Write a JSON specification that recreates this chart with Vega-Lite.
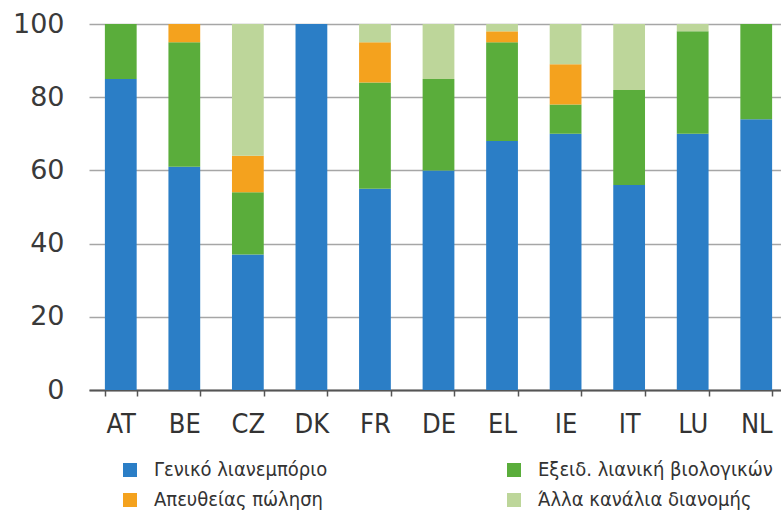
{
  "$schema": "https://vega.github.io/schema/vega-lite/v6.json",
  "autosize": "none",
  "width": 699,
  "height": 366,
  "padding": {"left": 89, "top": 24, "right": 0, "bottom": 126},
  "background": "white",
  "data": {
    "values": [
      {"country": "AT", "channel": "Γενικό λιανεμπόριο", "k": 1, "value": 85},
      {"country": "AT", "channel": "Εξειδ. λιανική βιολογικών", "k": 2, "value": 15},
      {"country": "BE", "channel": "Γενικό λιανεμπόριο", "k": 1, "value": 61},
      {"country": "BE", "channel": "Εξειδ. λιανική βιολογικών", "k": 2, "value": 34},
      {"country": "BE", "channel": "Απευθείας πώληση", "k": 3, "value": 5},
      {"country": "CZ", "channel": "Γενικό λιανεμπόριο", "k": 1, "value": 37},
      {"country": "CZ", "channel": "Εξειδ. λιανική βιολογικών", "k": 2, "value": 17},
      {"country": "CZ", "channel": "Απευθείας πώληση", "k": 3, "value": 10},
      {"country": "CZ", "channel": "Άλλα κανάλια διανομής", "k": 4, "value": 36},
      {"country": "DK", "channel": "Γενικό λιανεμπόριο", "k": 1, "value": 100},
      {"country": "FR", "channel": "Γενικό λιανεμπόριο", "k": 1, "value": 55},
      {"country": "FR", "channel": "Εξειδ. λιανική βιολογικών", "k": 2, "value": 29},
      {"country": "FR", "channel": "Απευθείας πώληση", "k": 3, "value": 11},
      {"country": "FR", "channel": "Άλλα κανάλια διανομής", "k": 4, "value": 5},
      {"country": "DE", "channel": "Γενικό λιανεμπόριο", "k": 1, "value": 60},
      {"country": "DE", "channel": "Εξειδ. λιανική βιολογικών", "k": 2, "value": 25},
      {"country": "DE", "channel": "Άλλα κανάλια διανομής", "k": 4, "value": 15},
      {"country": "EL", "channel": "Γενικό λιανεμπόριο", "k": 1, "value": 68},
      {"country": "EL", "channel": "Εξειδ. λιανική βιολογικών", "k": 2, "value": 27},
      {"country": "EL", "channel": "Απευθείας πώληση", "k": 3, "value": 3},
      {"country": "EL", "channel": "Άλλα κανάλια διανομής", "k": 4, "value": 2},
      {"country": "IE", "channel": "Γενικό λιανεμπόριο", "k": 1, "value": 70},
      {"country": "IE", "channel": "Εξειδ. λιανική βιολογικών", "k": 2, "value": 8},
      {"country": "IE", "channel": "Απευθείας πώληση", "k": 3, "value": 11},
      {"country": "IE", "channel": "Άλλα κανάλια διανομής", "k": 4, "value": 11},
      {"country": "IT", "channel": "Γενικό λιανεμπόριο", "k": 1, "value": 56},
      {"country": "IT", "channel": "Εξειδ. λιανική βιολογικών", "k": 2, "value": 26},
      {"country": "IT", "channel": "Άλλα κανάλια διανομής", "k": 4, "value": 18},
      {"country": "LU", "channel": "Γενικό λιανεμπόριο", "k": 1, "value": 70},
      {"country": "LU", "channel": "Εξειδ. λιανική βιολογικών", "k": 2, "value": 28},
      {"country": "LU", "channel": "Άλλα κανάλια διανομής", "k": 4, "value": 2},
      {"country": "NL", "channel": "Γενικό λιανεμπόριο", "k": 1, "value": 74},
      {"country": "NL", "channel": "Εξειδ. λιανική βιολογικών", "k": 2, "value": 26}
    ]
  },
  "mark": {"type": "bar"},
  "encoding": {
    "x": {
      "field": "country",
      "type": "nominal",
      "sort": null,
      "scale": {"paddingInner": 0.5, "paddingOuter": 0.25},
      "axis": {
        "title": null,
        "labelAngle": 0,
        "labelFont": "DejaVu Sans Condensed, sans-serif",
        "labelFontSize": 27,
        "labelColor": "#333333",
        "labelPadding": 15,
        "tickBand": "extent",
        "tickSize": 6,
        "tickColor": "#555555",
        "tickWidth": 1.5,
        "domainColor": "#555555",
        "domainWidth": 2,
        "grid": false
      }
    },
    "y": {
      "field": "value",
      "type": "quantitative",
      "stack": "zero",
      "scale": {"domain": [0, 100], "nice": false},
      "axis": {
        "title": null,
        "values": [0, 20, 40, 60, 80, 100],
        "labelFont": "DejaVu Sans",
        "labelFontSize": 27,
        "labelColor": "#3a3a3a",
        "labelPadding": 25,
        "ticks": false,
        "domain": false,
        "grid": true,
        "gridColor": "#a6a6a6",
        "gridWidth": 1.5
      }
    },
    "color": {
      "field": "channel",
      "type": "nominal",
      "scale": {
        "domain": ["Γενικό λιανεμπόριο", "Απευθείας πώληση", "Εξειδ. λιανική βιολογικών", "Άλλα κανάλια διανομής"],
        "range": ["#2b7ec6", "#f4a21e", "#5aad3b", "#bdd69a"]
      },
      "legend": {
        "title": null,
        "orient": "none",
        "legendX": 31,
        "legendY": 436,
        "columns": 2,
        "columnPadding": 176,
        "rowPadding": 10,
        "padding": 0,
        "symbolType": "square",
        "symbolSize": 196,
        "symbolStrokeWidth": 0,
        "symbolOffset": 0,
        "labelOffset": 14,
        "labelFont": "DejaVu Sans Condensed, sans-serif",
        "labelFontSize": 20,
        "labelColor": "#333333",
        "labelLimit": 400
      }
    },
    "order": {"field": "k", "type": "quantitative", "sort": "ascending"}
  },
  "config": {
    "view": {"stroke": null}
  }
}
